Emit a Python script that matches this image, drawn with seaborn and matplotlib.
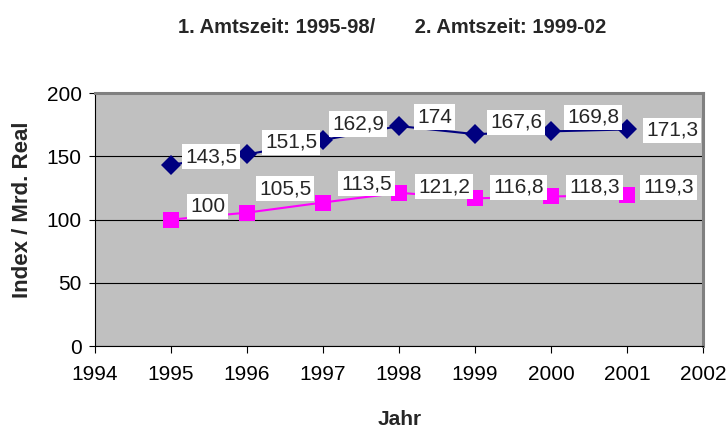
import pandas as pd
import seaborn as sns
import matplotlib.pyplot as plt

# Data
years = [1995, 1996, 1997, 1998, 1999, 2000, 2001]
index_a = [143.5, 151.5, 162.9, 174, 167.6, 169.8, 171.3]
index_b = [100, 105.5, 113.5, 121.2, 116.8, 118.3, 119.3]
labels_a = ["143,5", "151,5", "162,9", "174", "167,6", "169,8", "171,3"]
labels_b = ["100", "105,5", "113,5", "121,2", "116,8", "118,3", "119,3"]

# label offsets (pixels, right / up) like Excel placed them
offs_a = [(11, 8), (15, 12), (6, 16), (15, 9), (12, 12), (13, 14), (16, -1)]
offs_b = [(16, 13), (9, 24), (15, 19), (16, 6), (15, 11), (15, 9), (13, 8)]

df = pd.DataFrame({"Jahr": years * 2,
                   "Wert": index_a + index_b,
                   "Serie": ["A"] * len(years) + ["B"] * len(years)})

sns.set_style("white")
plt.rcParams['font.family'] = ['Liberation Sans', 'DejaVu Sans']

fig = plt.figure(figsize=(7.28, 4.3), dpi=100)
ax = fig.add_axes([0.1305, 0.1953, 0.835, 0.588])
ax.set_facecolor("#C0C0C0")

sns.lineplot(data=df, x="Jahr", y="Wert", hue="Serie", style="Serie",
             palette={"A": "#000080", "B": "#FF00FF"},
             markers={"A": "D", "B": "s"}, dashes=False,
             markersize=10, linewidth=1.5, markeredgewidth=0,
             legend=False, ax=ax, zorder=3)
for line in ax.lines:
    if line.get_marker() == "s":
        line.set_markersize(11.5)

box = dict(boxstyle="square,pad=0.15", fc="white", ec="none")
for x, y, t, (dx, dy) in zip(years, index_a, labels_a, offs_a):
    ax.annotate(t, (x, y), xytext=(dx + 3, dy), textcoords="offset pixels",
                ha="left", va="center", fontsize=15, bbox=box, zorder=4)
for x, y, t, (dx, dy) in zip(years, index_b, labels_b, offs_b):
    ax.annotate(t, (x, y), xytext=(dx + 3, dy), textcoords="offset pixels",
                ha="left", va="center", fontsize=15, bbox=box, zorder=4)

ax.set_xlim(1994, 2002)
ax.set_ylim(0, 200)
ax.set_xticks(range(1994, 2003))
ax.set_yticks(range(0, 201, 50))
ax.yaxis.grid(True, color="black", linewidth=0.8)
ax.set_axisbelow(True)
ax.tick_params(axis="x", direction="out", length=5, width=0.8, pad=9,
               colors="black", labelsize=15, bottom=True)
ax.tick_params(axis="y", direction="out", length=4.5, width=0.8, pad=5,
               colors="black", labelsize=15, left=True)
for side in ["top", "right"]:
    ax.spines[side].set_color("#808080")
    ax.spines[side].set_linewidth(2.2)
for side in ["left", "bottom"]:
    ax.spines[side].set_color("black")
    ax.spines[side].set_linewidth(0.8)

ax.set_xlabel("")
ax.set_ylabel("")
fig.text(0.549, 0.025, "Jahr", ha="center", va="center",
         fontsize=15, fontweight="bold")
fig.text(0.031, 0.512, "Index / Mrd. Real", ha="center", va="center",
         rotation=90, fontsize=16, fontweight="bold")
fig.text(0.538, 0.935, "1. Amtszeit: 1995-98/       2. Amtszeit: 1999-02",
         ha="center", va="center", fontsize=14.5, fontweight="bold")

fig.savefig("out.png", dpi=100)
